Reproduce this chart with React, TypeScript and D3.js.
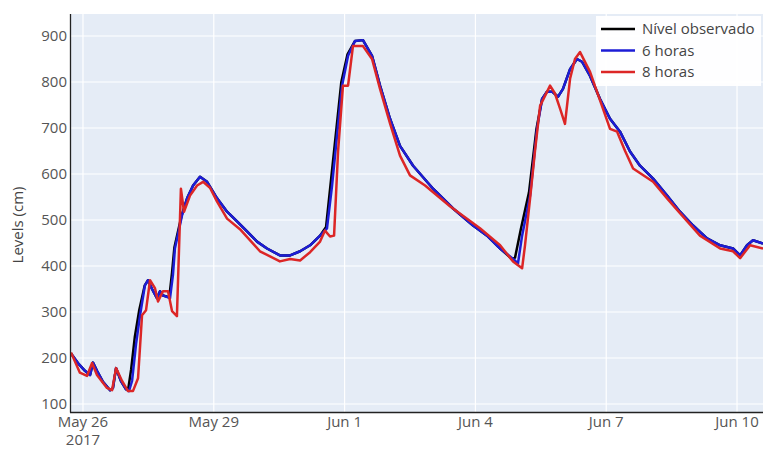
import React from "react";
import * as d3 from "d3";

// hours since 2017-05-26 00:00 and levels (cm)
const obsHours = [-6.6, -2.8, 0.6, 3.9, 5.5, 7.7, 11, 14.9, 16.5, 18.2, 20.9, 23.7, 25, 26.5, 28.5, 31, 34, 35.8, 38, 40.7, 42.4, 44, 47.5, 49, 50.3, 54.3, 57.3, 60.6, 64.4, 68.3, 73.8, 79.3, 84.8, 90.3, 95.8, 101.3, 108.4, 114, 119.5, 125, 130.5, 133.8, 136.6, 139.4, 142.2, 145.6, 149.7, 154.1, 159.1, 163.5, 169, 174.5, 181.7, 192.7, 203.7, 214.7, 222.4, 229.6, 236.2, 237.8, 241, 245.5, 249.6, 252.7, 255.4, 258.2, 261.5, 264.2, 268.1, 271.9, 274.7, 279.1, 284.6, 290.1, 295.6, 301.1, 306.6, 313.8, 321.5, 328.6, 335.8, 343.5, 350.7, 357.8, 361.7, 365.5, 368.8, 374.3];
const obsValues = [210, 189, 174, 163, 190, 172, 148, 130, 135, 178, 150, 132, 135, 175, 245, 305, 358, 369, 350, 330, 345, 336, 332, 385, 440, 510, 547, 575, 594, 583, 547, 518, 497, 475, 453, 438, 423, 423, 432, 445, 466, 485, 590, 695, 800, 860, 889, 891, 857, 792, 720, 661, 618, 568, 525, 488, 466, 438, 415, 418, 480, 560, 698, 763, 779, 779, 768, 785, 828, 850, 844, 813, 763, 720, 692, 649, 618, 590, 553, 518, 488, 460, 445, 438, 423, 445, 456, 449];

const h6Hours = [-6.6, -2.8, 0.6, 3.9, 5.5, 7.7, 11, 14.9, 16.5, 18.2, 20.9, 23.7, 25.3, 27, 29.2, 31.4, 34.1, 35.8, 38, 40.7, 42.4, 44, 47.9, 49.5, 50.6, 54.5, 57.3, 60.6, 64.4, 68.3, 73.8, 79.3, 84.8, 90.3, 95.8, 101.3, 108.4, 114, 119.5, 125, 130.5, 134.3, 137.1, 139.8, 142.6, 145.9, 149.7, 154.1, 159.1, 163.5, 169, 174.5, 181.7, 192.7, 203.7, 214.7, 222.4, 229.6, 237.8, 239.4, 241.7, 246.1, 249.9, 252.7, 255.4, 258.2, 261.5, 264.2, 268.1, 271.9, 274.7, 279.1, 284.6, 290.1, 295.6, 301.1, 306.6, 313.8, 321.5, 328.6, 335.8, 343.5, 350.7, 357.8, 361.7, 365.5, 368.8, 374.3];
const h6Values = [210, 189, 174, 163, 190, 172, 148, 130, 135, 178, 150, 132, 128, 150, 230, 293, 358, 369, 350, 330, 345, 336, 330, 380, 438, 510, 547, 575, 594, 583, 547, 518, 497, 475, 453, 438, 423, 423, 432, 445, 466, 482, 575, 683, 792, 857, 889, 891, 857, 792, 720, 661, 618, 568, 525, 488, 466, 438, 412, 405, 466, 553, 698, 763, 779, 779, 768, 785, 828, 850, 844, 813, 763, 720, 692, 649, 618, 590, 553, 518, 488, 460, 445, 438, 423, 445, 456, 449];

const h8Hours = [-6.6, -1.7, 2.2, 5, 7.7, 13.2, 16, 18.2, 21.5, 24.8, 27.5, 30.3, 32.5, 34.7, 36.9, 39.6, 41.3, 44, 46.8, 49, 51.7, 53.9, 55.6, 58.9, 62.8, 66.1, 69.9, 73.8, 79.3, 86.4, 97.4, 108.4, 114, 119.5, 125, 130.5, 133.2, 136, 138.2, 140.4, 143.1, 145.9, 148.6, 154.1, 159.1, 163.5, 169, 174.5, 180, 188.3, 202, 218.5, 229.6, 236.7, 241.7, 243.3, 246.1, 248.8, 251.6, 257.1, 259.8, 262.6, 265.3, 268.1, 270.8, 273.6, 279.1, 284.6, 290.1, 294, 298.4, 302.8, 313.8, 321.5, 328.6, 339.6, 350.7, 357.8, 361.7, 367.2, 374.3];
const h8Values = [212, 168, 161, 189, 163, 135, 130, 178, 150, 128, 128, 156, 293, 304, 369, 352, 323, 345, 345, 302, 291, 568, 518, 553, 575, 583, 570, 540, 503, 480, 432, 410, 415, 412, 430, 453, 477, 464, 466, 649, 792, 792, 878, 878, 850, 785, 710, 640, 597, 575, 530, 482, 445, 410, 395, 445, 547, 650, 748, 792, 775, 742, 709, 807, 850, 865, 822, 760, 698, 692, 650, 612, 583, 547, 515, 466, 438, 432, 417, 445, 438];

const yTicks = [100, 200, 300, 400, 500, 600, 700, 800, 900];
const xTickDays = [0, 3, 6, 9, 12, 15];
const xTickLabels = ["May 26", "May 29", "Jun 1", "Jun 4", "Jun 7", "Jun 10"];
const seriesNames = ["Nível observado", "6 horas", "8 horas"];
const seriesColors = ["#000000", "#1c1cd6", "#dc2626"];

const base = new Date(2017, 4, 26).getTime();
const toDate = (h: number) => new Date(base + h * 3600 * 1000);

const W = 763;
const H = 449;
const L = 71;
const R = 763;
const T = 14;
const B = 412;

export default function App() {
  const x = d3.scaleTime().domain([toDate(-6.6), toDate(374.3)]).range([L, R]);
  const y = d3.scaleLinear().domain([82.6, 947.8]).range([B, T]);
  const line = d3
    .line<[number, number]>()
    .x((d) => x(toDate(d[0])))
    .y((d) => y(d[1]));
  const series = [
    d3.zip(obsHours, obsValues) as [number, number][],
    d3.zip(h6Hours, h6Values) as [number, number][],
    d3.zip(h8Hours, h8Values) as [number, number][],
  ];
  const font = "'Open Sans', 'DejaVu Sans', sans-serif";
  return (
    <svg
      width={W}
      height={H}
      style={{ position: "absolute", left: 0, top: 0, background: "#fff" }}
      fontFamily={font}
    >
      <defs>
        <clipPath id="plot">
          <rect x={L} y={T} width={R - L} height={B - T} />
        </clipPath>
      </defs>
      <rect x={L} y={T} width={R - L} height={B - T} fill="#e5ecf6" />
      {yTicks.map((t) => (
        <line key={"gy" + t} x1={L} x2={R} y1={y(t)} y2={y(t)} stroke="#fff" strokeWidth={1.2} />
      ))}
      {xTickDays.map((d) => (
        <line key={"gx" + d} x1={x(toDate(d * 24))} x2={x(toDate(d * 24))} y1={T} y2={B} stroke="#fff" strokeWidth={1.2} />
      ))}
      <g clipPath="url(#plot)">
        {series.map((s, i) => (
          <path
            key={i}
            d={line(s) || ""}
            fill="none"
            stroke={seriesColors[i]}
            strokeWidth={2.5}
            strokeLinejoin="round"
          />
        ))}
      </g>
      <line x1={L - 0.5} x2={L - 0.5} y1={T} y2={B + 0.5} stroke="#222" strokeWidth={1.3} />
      <line x1={L - 1} x2={R} y1={B + 0.5} y2={B + 0.5} stroke="#222" strokeWidth={1.3} />
      {yTicks.map((t) => (
        <text key={"ty" + t} x={L - 4} y={y(t)} dy="0.36em" textAnchor="end" fontSize={15} fill="#555">
          {t}
        </text>
      ))}
      {xTickDays.map((d, i) => (
        <text key={"tx" + d} x={x(toDate(d * 24))} y={427} textAnchor="middle" fontSize={15} fill="#555">
          {xTickLabels[i]}
        </text>
      ))}
      <text x={x(toDate(0))} y={445} textAnchor="middle" fontSize={15} fill="#555">
        2017
      </text>
      <text
        transform="translate(23,225) rotate(-90)"
        textAnchor="middle"
        fontSize={15}
        fill="#444"
      >
        Levels (cm)
      </text>
      <rect x={596} y={16} width={165} height={70} fill="#fff" fillOpacity={0.95} />
      {seriesNames.map((n, i) => (
        <g key={n} transform={`translate(0,${29 + i * 21.5})`}>
          <line x1={601} x2={635} y1={0} y2={0} stroke={seriesColors[i]} strokeWidth={2.5} />
          <text x={642} y={0} dy="0.36em" fontSize={15} fill="#444">
            {n}
          </text>
        </g>
      ))}
    </svg>
  );
}
